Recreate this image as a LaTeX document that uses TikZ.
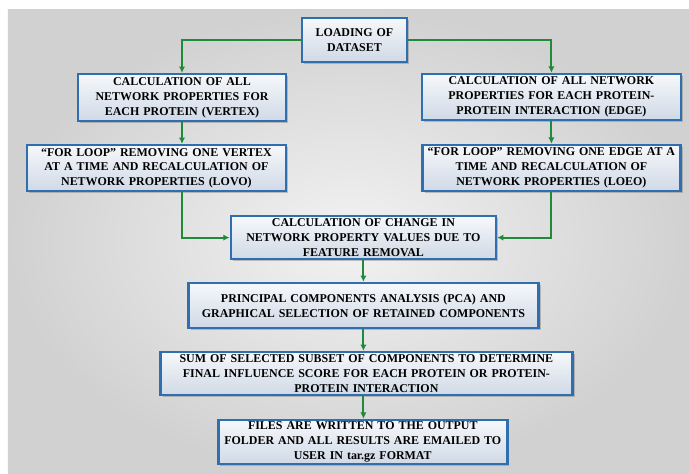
\documentclass[tikz,border=0pt]{standalone}
\usepackage{fontspec}
\setmainfont{Liberation Serif}
\usepackage{xcolor}
\usepackage{tikz}
\usetikzlibrary{shapes,arrows,positioning,calc,shadows,arrows.meta}

\definecolor{flowgreen}{HTML}{1F8B3A}
\definecolor{boxblue}{HTML}{2F6FB0}
\definecolor{boxtop}{HTML}{F6F8FB}
\definecolor{boxbottom}{HTML}{CFD9E6}

\tikzset{
  stepbox/.style={rectangle, draw=boxblue, line width=1.8pt, top color=boxtop, bottom color=boxbottom,
    drop shadow={shadow xshift=1.5pt, shadow yshift=-1.5pt, opacity=0.45},
    text centered, inner xsep=2pt, inner ysep=1pt,
    font=\fontsize{8.5}{10.6}\selectfont\bfseries},
  flow/.style={draw=flowgreen, line width=1.5pt, -{Latex[length=4.5pt,width=4.5pt]}}
}

\begin{document}
\begin{tikzpicture}[node distance=1.7cm]
  \useasboundingbox (0,0) rectangle (17.225,-11.825);
  \shade[inner color=gray!10, outer color=gray!36] (0.2,-0.225) rectangle (17.225,-11.825);

  \node (load) [stepbox, text width=2.47cm, minimum width=2.625cm, minimum height=1.1cm] at (8.86,-1.0) {LOADING OF\\DATASET};
  \node (vcalc) [stepbox, text width=5.05cm, minimum width=5.2cm, minimum height=1.175cm, below of=load, node distance=1.44cm, xshift=-4.31cm] {CALCULATION OF ALL\\NETWORK PROPERTIES FOR\\EACH PROTEIN (VERTEX)};
  \node (ecalc) [stepbox, text width=6.32cm, minimum width=6.475cm, minimum height=1.15cm, below of=load, node distance=1.425cm, xshift=4.925cm] {CALCULATION OF ALL NETWORK\\PROPERTIES FOR EACH PROTEIN-\\PROTEIN INTERACTION (EDGE)};
  \node (vloop) [stepbox, text width=6.32cm, minimum width=6.475cm, minimum height=1.15cm, below of=vcalc, node distance=1.765cm, xshift=-0.64cm] {``FOR LOOP'' REMOVING ONE VERTEX\\AT A TIME AND RECALCULATION OF\\NETWORK PROPERTIES (LOVO)};
  \node (eloop) [stepbox, text width=6.3cm, minimum width=6.45cm, minimum height=1.15cm, below of=ecalc, node distance=1.775cm] {``FOR LOOP'' REMOVING ONE EDGE AT A\\TIME AND RECALCULATION OF\\NETWORK PROPERTIES (LOEO)};
  \node (change) [stepbox, text width=6.47cm, minimum width=6.625cm, minimum height=1.075cm, below of=load, node distance=4.94cm, xshift=0.225cm] {CALCULATION OF CHANGE IN\\NETWORK PROPERTY VALUES DUE TO\\FEATURE REMOVAL};
  \node (pca) [stepbox, text width=8.6cm, minimum width=8.75cm, minimum height=1.125cm, below of=change] {PRINCIPAL COMPONENTS ANALYSIS (PCA) AND\\GRAPHICAL SELECTION OF RETAINED COMPONENTS};
  \node (sum) [stepbox, text width=10.15cm, minimum width=10.3cm, minimum height=1.075cm, below of=pca, xshift=0.075cm] {SUM OF SELECTED SUBSET OF COMPONENTS TO DETERMINE\\FINAL INFLUENCE SCORE FOR EACH PROTEIN OR PROTEIN-\\PROTEIN INTERACTION};
  \node (files) [stepbox, text width=7.07cm, minimum width=7.225cm, minimum height=1.1cm, below of=sum, node distance=1.71cm, xshift=-0.09cm] {FILES ARE WRITTEN TO THE OUTPUT\\FOLDER AND ALL RESULTS ARE EMAILED TO\\USER IN tar.gz FORMAT};

  \draw [flow] (load.west) -| (vcalc.north);
  \draw [flow] (load.east) -| (ecalc.north);
  \draw [flow] (vcalc.south) -- (vcalc.south |- vloop.north);
  \draw [flow] (ecalc.south) -- (ecalc.south |- eloop.north);
  \draw [flow] (vloop.south -| vcalc.south) |- (change.west);
  \draw [flow] (eloop.south -| ecalc.south) |- (change.east);
  \draw [flow] (change.south) -- (change.south |- pca.north);
  \draw [flow] (pca.south) -- (pca.south |- sum.north);
  \draw [flow] (sum.south -| pca.south) -- (pca.south |- files.north);
\end{tikzpicture}
\end{document}
